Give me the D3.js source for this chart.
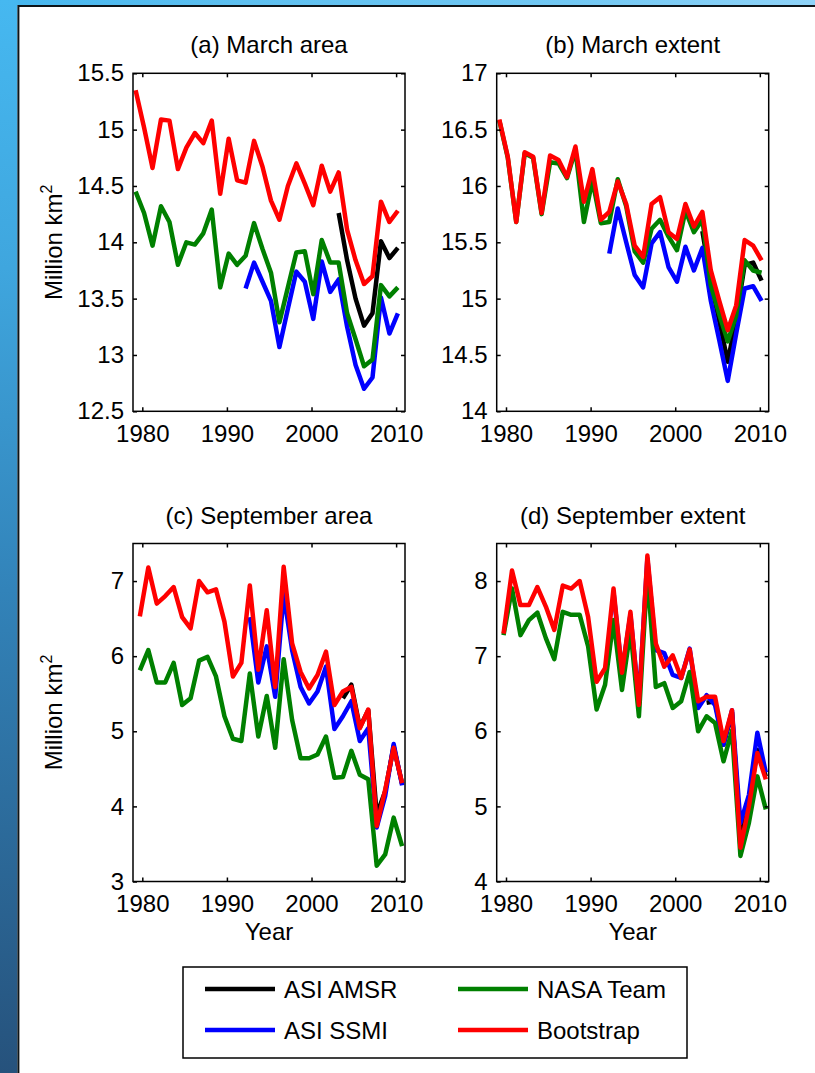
<!DOCTYPE html>
<html>
<head>
<meta charset="utf-8">
<script src="https://cdn.jsdelivr.net/npm/d3@7"></script>
<style>
  html, body { margin: 0; padding: 0; background: #fff; }
  svg { display: block; }
  text { font-family: "Liberation Sans", Arial, Helvetica, sans-serif; fill: #000; }
</style>
</head>
<body>
<svg id="fig" width="815" height="1073"></svg>
<script>
// ---------------------------------------------------------------------------
// Arctic sea-ice area and extent, March and September (million km²)
// ---------------------------------------------------------------------------
const YEARS_FULL = [1979, 1980, 1981, 1982, 1983, 1984, 1985, 1986, 1987, 1988,
                    1989, 1990, 1991, 1992, 1993, 1994, 1995, 1996, 1997, 1998,
                    1999, 2000, 2001, 2002, 2003, 2004, 2005, 2006, 2007, 2008,
                    2009, 2010];
const YEARS_SSMI = [1992, 1993, 1994, 1995, 1996, 1997, 1998, 1999, 2000, 2001,
                    2002, 2003, 2004, 2005, 2006, 2007, 2008, 2009, 2010];
const YEARS_AMSR = [2003, 2004, 2005, 2006, 2007, 2008, 2009, 2010];

// (a) March area
const MARCH_AREA_AMSR = [14.26, 13.84, 13.50, 13.26, 13.37, 14.01, 13.86, 13.95];
const MARCH_AREA_SSMI = [13.59, 13.82, 13.65, 13.48, 13.07, 13.41, 13.74, 13.65, 13.32, 13.83,
                         13.56, 13.67, 13.25, 12.91, 12.70, 12.80, 13.51, 13.19, 13.37];
const MARCH_AREA_NT   = [14.45, 14.26, 13.97, 14.32, 14.18, 13.80, 14.00, 13.98, 14.08, 14.29,
                         13.60, 13.90, 13.80, 13.88, 14.17, 13.94, 13.73, 13.29, 13.60, 13.91,
                         13.92, 13.54, 14.02, 13.82, 13.82, 13.37, 13.14, 12.90, 12.96, 13.62,
                         13.52, 13.60];
const MARCH_AREA_BT   = [15.35, 15.02, 14.66, 15.09, 15.08, 14.65, 14.84, 14.97, 14.88, 15.08,
                         14.43, 14.92, 14.55, 14.53, 14.90, 14.67, 14.37, 14.20, 14.50, 14.70,
                         14.52, 14.33, 14.68, 14.45, 14.62, 14.11, 13.84, 13.63, 13.70, 14.36,
                         14.18, 14.28];

// (b) March extent
const MARCH_EXT_AMSR = [15.60, 15.15, 14.80, 14.44, 14.82, 15.30, 15.32, 15.16];
const MARCH_EXT_SSMI = [15.40, 15.80, 15.50, 15.21, 15.10, 15.49, 15.59, 15.28, 15.15, 15.46,
                        15.25, 15.45, 14.98, 14.63, 14.27, 14.69, 15.09, 15.11, 14.98];
const MARCH_EXT_NT   = [16.58, 16.25, 15.68, 16.29, 16.25, 15.75, 16.21, 16.20, 16.07, 16.32,
                        15.68, 16.05, 15.67, 15.68, 16.06, 15.82, 15.42, 15.32, 15.62, 15.70,
                        15.55, 15.43, 15.78, 15.59, 15.70, 15.12, 14.86, 14.62, 14.85, 15.34,
                        15.25, 15.23];
const MARCH_EXT_BT   = [16.59, 16.26, 15.68, 16.30, 16.26, 15.76, 16.27, 16.23, 16.08, 16.35,
                        15.86, 16.15, 15.70, 15.77, 16.04, 15.84, 15.47, 15.37, 15.84, 15.90,
                        15.59, 15.53, 15.84, 15.64, 15.77, 15.25, 14.98, 14.72, 14.94, 15.52,
                        15.47, 15.34];

// (c) September area
const SEPT_AREA_AMSR = [5.44, 5.62, 5.05, 5.28, 3.89, 4.20, 4.80, 4.30];
const SEPT_AREA_SSMI = [6.52, 5.65, 6.13, 5.46, 6.83, 6.08, 5.59, 5.37, 5.53, 5.86,
                        5.03, 5.20, 5.40, 4.87, 5.04, 3.72, 4.14, 4.83, 4.28];
const SEPT_AREA_NT   = [5.81, 6.08, 5.65, 5.65, 5.91, 5.35, 5.44, 5.94, 5.99, 5.73,
                        5.20, 4.90, 4.87, 5.77, 4.93, 5.47, 4.78, 5.96, 5.15, 4.64,
                        4.64, 4.69, 4.93, 4.38, 4.39, 4.74, 4.42, 4.36, 3.21, 3.36,
                        3.85, 3.47];
const SEPT_AREA_BT   = [6.53, 7.18, 6.70, 6.80, 6.92, 6.52, 6.37, 7.00, 6.85, 6.89,
                        6.46, 5.73, 5.91, 6.94, 5.82, 6.61, 5.59, 7.19, 6.17, 5.79,
                        5.57, 5.75, 6.06, 5.35, 5.53, 5.59, 5.04, 5.29, 3.74, 4.22,
                        4.78, 4.31];

// (d) September extent
const SEPT_EXT_AMSR = [6.38, 6.40, 5.82, 6.25, 4.60, 5.05, 5.75, 5.40];
const SEPT_EXT_SSMI = [7.85, 6.78, 7.55, 6.40, 8.30, 7.08, 7.04, 6.75, 6.71, 7.10,
                       6.31, 6.48, 6.35, 5.82, 6.28, 4.78, 5.15, 5.98, 5.45];
const SEPT_EXT_NT   = [7.28, 7.90, 7.28, 7.48, 7.58, 7.24, 6.96, 7.59, 7.55, 7.55,
                       7.13, 6.29, 6.62, 7.48, 6.55, 7.35, 6.20, 8.10, 6.59, 6.64,
                       6.31, 6.40, 6.79, 6.00, 6.20, 6.11, 5.60, 6.01, 4.34, 4.78,
                       5.40, 4.96];
const SEPT_EXT_BT   = [7.30, 8.14, 7.68, 7.68, 7.92, 7.66, 7.35, 7.94, 7.90, 8.00,
                       7.52, 6.66, 6.84, 7.90, 6.78, 7.59, 6.35, 8.34, 7.17, 6.86,
                       7.01, 6.71, 7.09, 6.40, 6.46, 6.46, 5.87, 6.28, 4.45, 5.00,
                       5.71, 5.36];

// Axis ticks
const X_TICKS = [1980, 1990, 2000, 2010];
const Y_TICKS_MARCH_AREA = [12.5, 13, 13.5, 14, 14.5, 15, 15.5];
const Y_TICKS_MARCH_EXT  = [14, 14.5, 15, 15.5, 16, 16.5, 17];
const Y_TICKS_SEPT_AREA  = [3, 4, 5, 6, 7];
const Y_TICKS_SEPT_EXT   = [4, 5, 6, 7, 8];

// Series (drawing order = legend order)
const SERIES_NAMES  = ["ASI AMSR", "ASI SSMI", "NASA Team", "Bootstrap"];
const SERIES_COLORS = ["#000000", "#0000ff", "#008000", "#ff0000"];

// Mid-month position within the year
const MARCH_OFFSET = 2.5 / 12;
const SEPT_OFFSET  = 8.5 / 12;

// ---------------------------------------------------------------------------
const svg = d3.select("#fig");
const W = 815, H = 1073;

// Slide frame: blue strips along the left and top edges
const defs = svg.append("defs");
const gLeft = defs.append("linearGradient").attr("id", "leftStrip")
  .attr("x1", 0).attr("y1", 0).attr("x2", 0).attr("y2", 1);
[[0, "#46b8f0"], [0.25, "#3fa6de"], [0.55, "#3283b9"], [1, "#26527c"]]
  .forEach(([o, c]) => gLeft.append("stop").attr("offset", o).attr("stop-color", c));
const gTop = defs.append("linearGradient").attr("id", "topStrip")
  .attr("x1", 0).attr("y1", 0).attr("x2", 1).attr("y2", 0);
[[0, "#45b6ee"], [0.3, "#5ec0f0"], [0.7, "#72c8f3"], [1, "#8fd3f8"]]
  .forEach(([o, c]) => gTop.append("stop").attr("offset", o).attr("stop-color", c));

svg.append("rect").attr("x", 0).attr("y", 0).attr("width", W).attr("height", H).attr("fill", "#fff");
svg.append("rect").attr("x", 0).attr("y", 0).attr("width", W).attr("height", 5.2).attr("fill", "url(#topStrip)");
svg.append("rect").attr("x", 0).attr("y", 0).attr("width", 17.4).attr("height", H).attr("fill", "url(#leftStrip)");
svg.append("path")
  .attr("d", `M18.4,${H} L18.4,6 L${W},6`)
  .attr("fill", "none").attr("stroke", "#0d1418").attr("stroke-width", 2);

// ---------------------------------------------------------------------------
const PANEL_W = 272, PANEL_H = 338;
const X_DOMAIN = [1978.9, 2011.05];

const panels = [
  { title: "(a) March area", left: 133, top: 73.3, yDomain: [12.5, 15.5], yTicks: Y_TICKS_MARCH_AREA,
    offset: MARCH_OFFSET, ylabel: true, xlabel: false,
    data: [MARCH_AREA_AMSR, MARCH_AREA_SSMI, MARCH_AREA_NT, MARCH_AREA_BT] },
  { title: "(b) March extent", left: 496.7, top: 73.3, yDomain: [14, 17], yTicks: Y_TICKS_MARCH_EXT,
    offset: MARCH_OFFSET, ylabel: false, xlabel: false,
    data: [MARCH_EXT_AMSR, MARCH_EXT_SSMI, MARCH_EXT_NT, MARCH_EXT_BT] },
  { title: "(c) September area", left: 133, top: 543.5, yDomain: [3, 7.5], yTicks: Y_TICKS_SEPT_AREA,
    offset: SEPT_OFFSET, ylabel: true, xlabel: true,
    data: [SEPT_AREA_AMSR, SEPT_AREA_SSMI, SEPT_AREA_NT, SEPT_AREA_BT] },
  { title: "(d) September extent", left: 496.7, top: 543.5, yDomain: [4, 8.5], yTicks: Y_TICKS_SEPT_EXT,
    offset: SEPT_OFFSET, ylabel: false, xlabel: true,
    data: [SEPT_EXT_AMSR, SEPT_EXT_SSMI, SEPT_EXT_NT, SEPT_EXT_BT] }
];
const seriesYears = [YEARS_AMSR, YEARS_SSMI, YEARS_FULL, YEARS_FULL];

const FONT = 24, TICK = 4, AX_W = 1.5, LINE_W = 4.5;

panels.forEach((p, pi) => {
  const g = svg.append("g").attr("transform", `translate(${p.left},${p.top})`);
  const x = d3.scaleLinear().domain(X_DOMAIN).range([0, PANEL_W]);
  const y = d3.scaleLinear().domain(p.yDomain).range([PANEL_H, 0]);

  // clip region for the data lines
  const clipId = "clip" + pi;
  defs.append("clipPath").attr("id", clipId)
    .append("rect").attr("width", PANEL_W).attr("height", PANEL_H);

  const line = d3.line().x(d => x(d[0] + p.offset)).y(d => y(d[1]));
  const lines = g.append("g").attr("clip-path", `url(#${clipId})`);
  p.data.forEach((vals, si) => {
    const pts = seriesYears[si].map((yr, i) => [yr, vals[i]]);
    lines.append("path")
      .attr("d", line(pts))
      .attr("fill", "none")
      .attr("stroke", SERIES_COLORS[si])
      .attr("stroke-width", LINE_W)
      .attr("stroke-linejoin", "round");
  });

  // axes with inward ticks on all four sides
  const fmt = d3.format("~g");
  const axB = d3.axisBottom(x).tickValues(X_TICKS).tickFormat(d3.format("d"))
    .tickSizeInner(-TICK).tickSizeOuter(0).tickPadding(13.5);
  const axT = d3.axisTop(x).tickValues(X_TICKS).tickFormat("")
    .tickSizeInner(-TICK).tickSizeOuter(0);
  const axL = d3.axisLeft(y).tickValues(p.yTicks).tickFormat(fmt)
    .tickSizeInner(-TICK).tickSizeOuter(0).tickPadding(9);
  const axR = d3.axisRight(y).tickValues(p.yTicks).tickFormat("")
    .tickSizeInner(-TICK).tickSizeOuter(0);

  const styleAxis = sel => {
    sel.select(".domain").remove();
    sel.selectAll("line").attr("stroke", "#000").attr("stroke-width", AX_W);
    sel.selectAll("text").attr("font-size", FONT).attr("fill", "#000")
      .attr("font-family", "'Liberation Sans', Arial, Helvetica, sans-serif");
  };
  g.append("g").attr("transform", `translate(0,${PANEL_H})`).call(axB).call(styleAxis);
  g.append("g").call(axT).call(styleAxis);
  g.append("g").call(axL).call(styleAxis);
  g.append("g").attr("transform", `translate(${PANEL_W},0)`).call(axR).call(styleAxis);

  g.append("rect").attr("width", PANEL_W).attr("height", PANEL_H)
    .attr("fill", "none").attr("stroke", "#000").attr("stroke-width", AX_W);

  // title
  g.append("text").attr("x", PANEL_W / 2).attr("y", -20)
    .attr("text-anchor", "middle").attr("font-size", FONT).text(p.title);

  if (p.xlabel) {
    g.append("text").attr("x", PANEL_W / 2).attr("y", PANEL_H + 58)
      .attr("text-anchor", "middle").attr("font-size", FONT).text("Year");
  }
  if (p.ylabel) {
    const t = g.append("text")
      .attr("transform", `translate(${62 - p.left},${PANEL_H / 2}) rotate(-90)`)
      .attr("text-anchor", "middle").attr("font-size", FONT);
    t.append("tspan").text("Million km");
    t.append("tspan").attr("dy", -10).attr("font-size", 16).text("2");
  }
});

// ---------------------------------------------------------------------------
// Legend
const lg = svg.append("g");
lg.append("rect").attr("x", 183).attr("y", 967).attr("width", 504).attr("height", 91)
  .attr("fill", "#fff").attr("stroke", "#000").attr("stroke-width", AX_W);
const legendPos = [
  { x: 205, y: 989 },   // ASI AMSR
  { x: 205, y: 1030 },  // ASI SSMI
  { x: 458, y: 989 },   // NASA Team
  { x: 458, y: 1030 }   // Bootstrap
];
SERIES_NAMES.forEach((name, i) => {
  const pos = legendPos[i];
  lg.append("line").attr("x1", pos.x).attr("x2", pos.x + 70)
    .attr("y1", pos.y).attr("y2", pos.y)
    .attr("stroke", SERIES_COLORS[i]).attr("stroke-width", LINE_W);
  lg.append("text").attr("x", pos.x + 79).attr("y", pos.y + 9)
    .attr("font-size", FONT).text(name);
});
</script>
</body>
</html>
